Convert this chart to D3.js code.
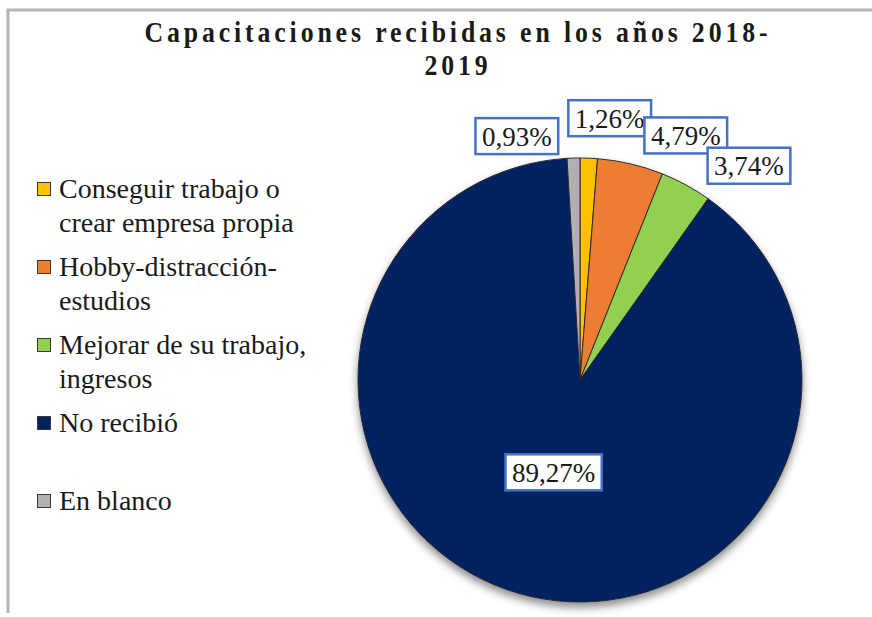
<!DOCTYPE html>
<html>
<head>
<meta charset="utf-8">
<script src="https://cdn.jsdelivr.net/npm/d3@7"></script>
<style>
  body { margin: 0; background: #fff; }
</style>
</head>
<body>
<div id="canvas"></div>
<script>
// --- data
var categories = ['Conseguir trabajo o crear empresa propia',
                  'Hobby-distracción-estudios',
                  'Mejorar de su trabajo, ingresos',
                  'No recibió',
                  'En blanco'];
var legendLines = [['Conseguir trabajo o', 'crear empresa propia'],
                   ['Hobby-distracción-', 'estudios'],
                   ['Mejorar de su trabajo,', 'ingresos'],
                   ['No recibió'],
                   ['En blanco']];
var values = [1.26, 4.79, 3.74, 89.27, 0.93];
var valueLabels = ['1,26%', '4,79%', '3,74%', '89,27%', '0,93%'];
var colors = ['#FFC000', '#ED7D31', '#92D050', '#002060', '#B1B1B5'];
var titleLines = ['Capacitaciones recibidas en los años 2018-', '2019'];

var FONT = '"Liberation Serif", "Times New Roman", serif';

// --- margin convention
var W = 872, H = 617;
var cx = 580, cy = 380, R = 222;

var svg = d3.select('#canvas').append('svg')
  .attr('width', W)
  .attr('height', H)
  .style('font-family', FONT);

var defs = svg.append('defs');
var f = defs.append('filter').attr('id', 'shadow')
  .attr('x', '-10%').attr('y', '-10%').attr('width', '120%').attr('height', '125%');
f.append('feDropShadow')
  .attr('dx', 0).attr('dy', 5)
  .attr('stdDeviation', 4)
  .attr('flood-color', '#000')
  .attr('flood-opacity', 0.45);

// chart frame (top and left edges visible)
svg.append('path')
  .attr('d', 'M8,613 L8,10 L872,10')
  .attr('fill', 'none')
  .attr('stroke', '#b4b4b8')
  .attr('stroke-width', 3);

// --- title (narrow glyphs, wide spacing)
var sx = 0.86;
var titles = svg.selectAll('text.title')
  .data(titleLines)
  .enter().append('text')
  .attr('class', 'title')
  .attr('transform', function(d, i) { return 'translate(456,' + (42 + i * 33) + ') scale(' + sx + ',1)'; })
  .attr('text-anchor', 'middle')
  .attr('fill', '#1a1a1a')
  .style('font-family', FONT)
  .style('font-size', '30px')
  .style('font-weight', 'bold')
  .text(function(d) { return d; });

var t0 = titles.node();
var spacing = (623 / sx - t0.getComputedTextLength()) / (titleLines[0].length - 1);
titles.style('letter-spacing', spacing + 'px')
  .attr('dx', spacing / 2);

// --- pie
var pie = d3.pie().sort(null).value(function(d) { return d; });
var arcs = pie(values);
var arc = d3.arc().innerRadius(0).outerRadius(R);
var inArc = d3.arc().innerRadius(96).outerRadius(96);
var outArc = d3.arc().innerRadius(245).outerRadius(245);

var g = svg.append('g')
  .attr('transform', 'translate(' + cx + ',' + cy + ')');

g.append('g')
  .attr('filter', 'url(#shadow)')
  .selectAll('path')
  .data(arcs)
  .enter().append('path')
  .attr('d', arc)
  .attr('fill', function(d, i) { return colors[i]; })
  .attr('stroke', '#2a2a2a')
  .attr('stroke-width', 1);

// label nudges (layout only)
var nudge = [[-22, -17], [8, -6], [10, 1], [0, 0], [-14, 1]];

var labels = g.selectAll('g.lbl')
  .data(arcs)
  .enter().append('g')
  .attr('class', 'lbl')
  .attr('transform', function(d, i) {
    var p;
    if (values[i] > 50) {
      p = inArc.centroid(d);
    } else {
      p = outArc.centroid(d);
      var mid = (d.startAngle + d.endAngle) / 2;
      p[0] += Math.sin(mid) >= 0 ? 42 : -42;
    }
    return 'translate(' + (p[0] + nudge[i][0]) + ',' + (p[1] + nudge[i][1]) + ')';
  });

labels.append('rect')
  .attr('fill', '#fff')
  .attr('stroke', '#4472C4')
  .attr('stroke-width', 2.5);

labels.append('text')
  .attr('text-anchor', 'middle')
  .attr('dy', '0.35em')
  .attr('fill', '#1a1a1a')
  .style('font-family', FONT)
  .style('font-size', '27px')
  .text(function(d, i) { return valueLabels[i]; });

labels.each(function() {
  var t = d3.select(this).select('text').node();
  var w = t.getComputedTextLength() + 13;
  d3.select(this).select('rect')
    .attr('x', -w / 2).attr('y', -18)
    .attr('width', w).attr('height', 36);
});

// --- legend
var ly = d3.scaleLinear().domain([0, 4]).range([198, 510]);

var leg = svg.append('g').selectAll('g')
  .data(categories)
  .enter().append('g')
  .attr('transform', function(d, i) { return 'translate(37,' + ly(i) + ')'; });

leg.append('rect')
  .attr('x', 0.5).attr('y', -15.5)
  .attr('width', 13).attr('height', 13)
  .attr('fill', function(d, i) { return colors[i]; })
  .attr('stroke', '#3a3a3a')
  .attr('stroke-width', 1);

leg.append('text')
  .attr('fill', '#1a1a1a')
  .style('font-family', FONT)
  .style('font-size', '28px')
  .selectAll('tspan')
  .data(function(d, i) { return legendLines[i]; })
  .enter().append('tspan')
  .attr('x', 22)
  .attr('dy', function(d, i) { return i ? 34 : 0; })
  .text(function(d) { return d; });
</script>
</body>
</html>
